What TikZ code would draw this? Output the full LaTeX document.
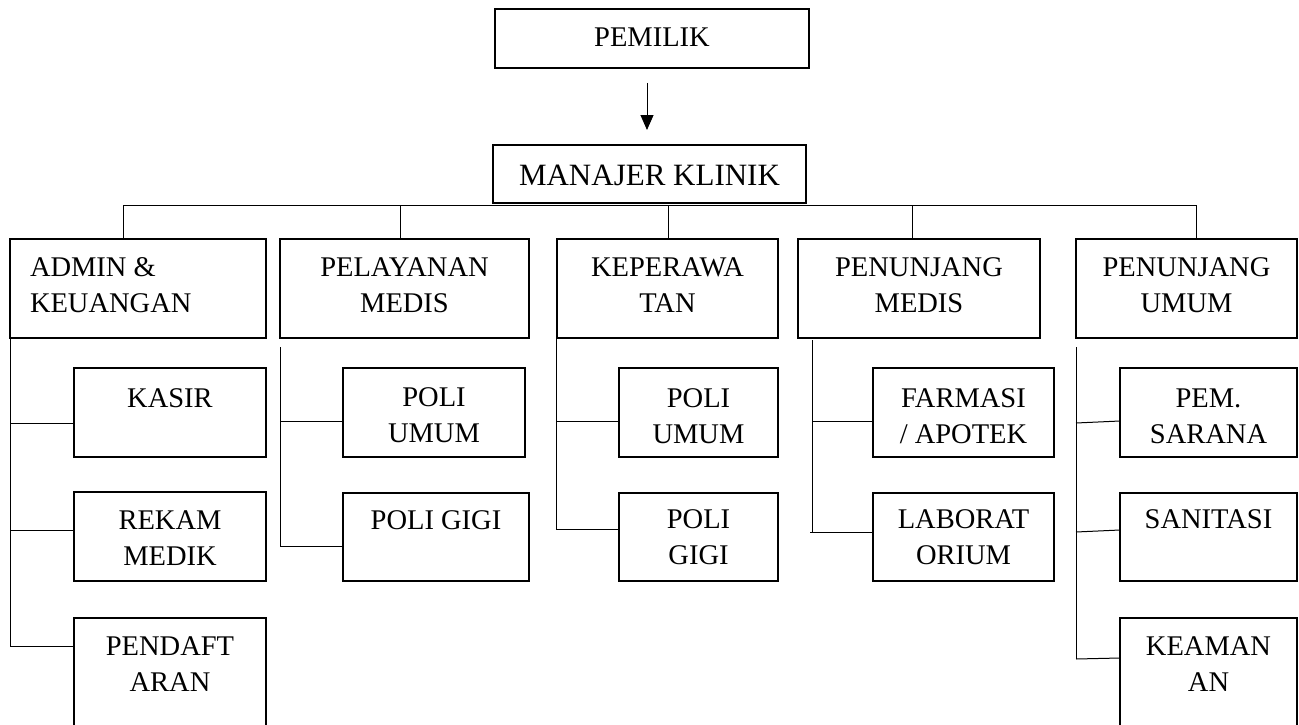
\documentclass[tikz,border=0pt]{standalone}
\usepackage{fontspec}
\setmainfont{Liberation Serif}
\usetikzlibrary{arrows.meta}
\newcommand{\orgbox}[7]{%
  \node[orgbx, anchor=north west] (#1) at (#2,#3) {\parbox[t][#5pt][t]{#4pt}{\centering\rule{0pt}{#6pt}#7}};}
\newcommand{\orgboxL}[7]{%
  \node[orgbx, anchor=north west] (#1) at (#2,#3) {\parbox[t][#5pt][t]{#4pt}{\raggedright\leftskip=20pt\rule{0pt}{#6pt}#7}};}
\begin{document}
\begin{tikzpicture}[x=1pt,y=-1pt,
  orgbx/.style={draw, line width=1.1pt, inner sep=0pt, outer sep=0pt, font=\fontsize{28.5}{36.5}\selectfont},
  conn/.style={line width=1pt}]
\useasboundingbox (0,0) rectangle (1299,725);
\fill[white] (0,0) rectangle (1299,725);
\clip (0,0) rectangle (1299,725);

% top
\orgbox{pemilik}{495}{9}{314}{59}{38}{PEMILIK}
\orgbox{manajer}{493}{145}{313}{58}{40}{{\fontsize{31}{36}\selectfont MANAJER KLINIK}}
\coordinate (ax) at (647,100);
\draw[conn, -{Triangle[length=15pt,width=13pt]}, shorten <=15pt, shorten >=15pt]
  (pemilik.south -| ax) -- (manajer.north -| ax);

% departments
\orgboxL{admin}{10}{239}{256}{99}{37}{ADMIN \&\\KEUANGAN}
\orgbox{pelayanan}{280}{239}{249}{99}{37}{PELAYANAN\\MEDIS}
\orgbox{keperawatan}{557}{239}{221}{99}{37}{KEPERAWA\\TAN}
\orgbox{penmedis}{798}{239}{242}{99}{37}{PENUNJANG\\MEDIS}
\orgbox{penumum}{1076}{239}{221}{99}{37}{PENUNJANG\\UMUM}

% bus
\coordinate (b1) at (123,205);
\coordinate (b2) at (400,205);
\coordinate (b3) at (668,205);
\coordinate (b4) at (912,205);
\coordinate (b5) at (1196,205);
\draw[conn] (b1) -- (b5);
\draw[conn] (b1) -- (b1 |- admin.north);
\draw[conn] (b2) -- (b2 |- pelayanan.north);
\draw[conn] (b3) -- (b3 |- keperawatan.north);
\draw[conn] (b4) -- (b4 |- penmedis.north);
\draw[conn] (b5) -- (b5 |- penumum.north);

% admin column
\orgbox{kasir}{74}{368}{192}{89}{39}{KASIR}
\orgbox{rekam}{74}{492}{192}{89}{37}{REKAM\\MEDIK}
\orgbox{pendaftaran}{74}{618}{192}{130}{37}{PENDAFT\\ARAN}
\coordinate (a0) at (10,338);
\coordinate (a1) at (10,423);
\coordinate (a2) at (10,530);
\coordinate (a3) at (10,646);
\draw[conn] (a0) -- (a3);
\draw[conn] (a1) -- (a1 -| kasir.west);
\draw[conn] (a2) -- (a2 -| rekam.west);
\draw[conn] (a3) -- (a3 -| pendaftaran.west);

% pelayanan column
\orgbox{poliumumA}{343}{368}{182}{89}{38}{POLI\\UMUM}
\orgbox{poligigiA}{343}{493}{186}{88}{36}{POLI GIGI}
\coordinate (p0) at (280,347);
\coordinate (p1) at (280,421);
\coordinate (p2) at (280,546);
\draw[conn] (p0) -- (p2);
\draw[conn] (p1) -- (p1 -| poliumumA.west);
\draw[conn] (p2) -- (p2 -| poligigiA.west);

% keperawatan column
\orgbox{poliumumB}{619}{368}{159}{89}{39}{POLI\\UMUM}
\orgbox{poligigiB}{619}{493}{159}{88}{35}{POLI\\GIGI}
\coordinate (k0) at (556,332);
\coordinate (k1) at (556,421);
\coordinate (k2) at (556,529);
\draw[conn] (k0) -- (k2);
\draw[conn] (k1) -- (k1 -| poliumumB.west);
\draw[conn] (k2) -- (k2 -| poligigiB.west);

% penunjang medis column
\orgbox{farmasi}{873}{368}{181}{89}{39}{FARMASI\\/ APOTEK}
\orgbox{lab}{873}{493}{181}{88}{35}{LABORAT\\ORIUM}
\coordinate (m0) at (812,340);
\coordinate (m1) at (812,421);
\coordinate (m2) at (812,532);
\draw[conn] (m0) -- (m2);
\draw[conn] (m1) -- (m1 -| farmasi.west);
\draw[conn] ([xshift=-2pt]m2) -- (m2 -| lab.west);

% penunjang umum column
\orgbox{pemsarana}{1120}{368}{177}{89}{39}{PEM.\\SARANA}
\orgbox{sanitasi}{1120}{493}{177}{88}{35}{SANITASI}
\orgbox{keamanan}{1120}{618}{177}{130}{37}{KEAMAN\\AN}
\coordinate (u0) at (1076,347);
\coordinate (u1) at (1076,423);
\coordinate (u2) at (1076,532);
\coordinate (u3) at (1076,659);
\draw[conn] (u0) -- (u3);
\draw[conn] (u1) -- ([yshift=2pt]u1 -| pemsarana.west);
\draw[conn] (u2) -- ([yshift=2pt]u2 -| sanitasi.west);
\draw[conn] (u3) -- ([yshift=1pt]u3 -| keamanan.west);
\end{tikzpicture}
\end{document}
